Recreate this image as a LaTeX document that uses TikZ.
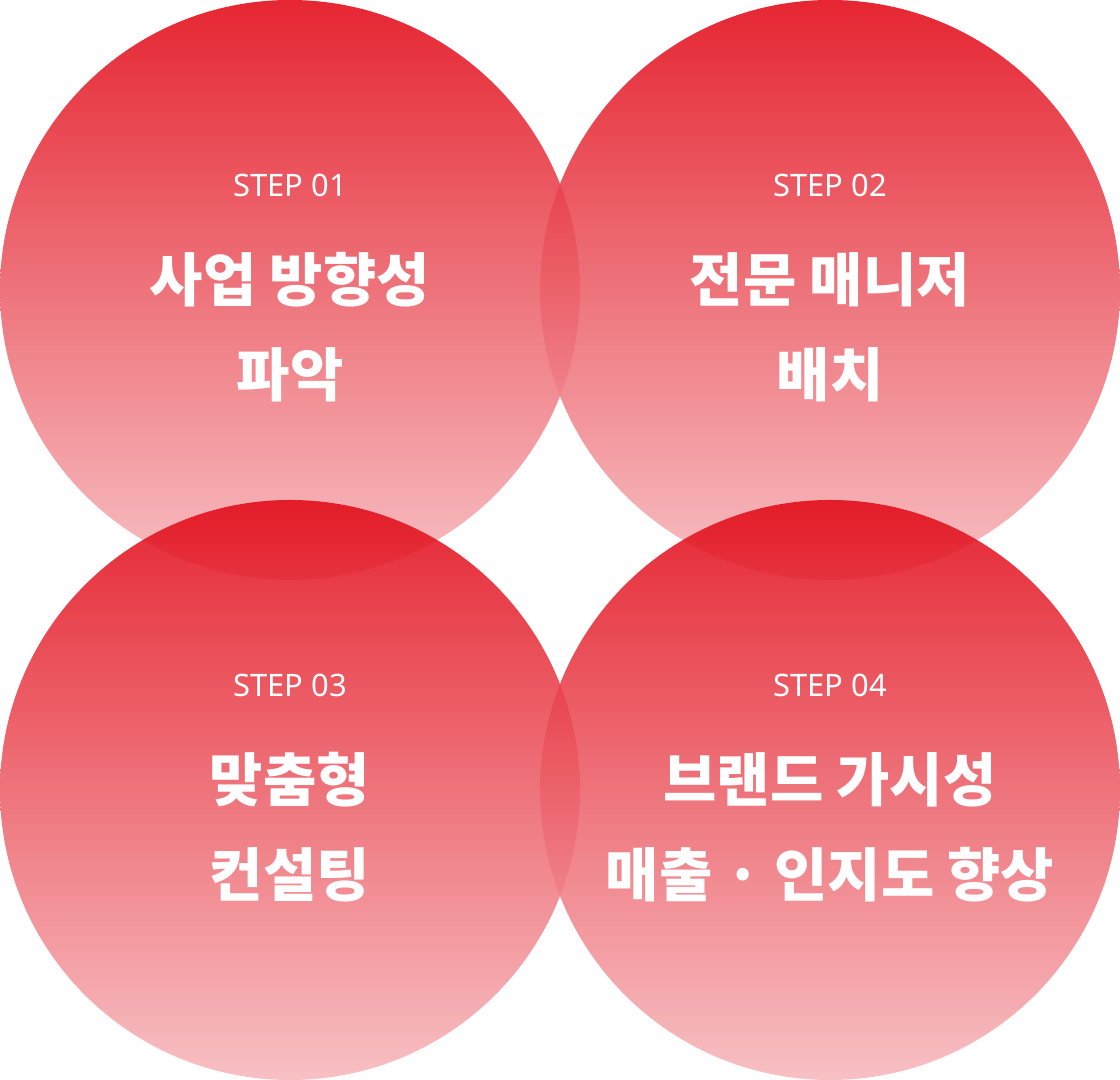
\documentclass[tikz,border=0pt]{standalone}
\usepackage{fontspec}
\setmainfont{Noto Sans CJK KR}
\newfontfamily\stepfont{Noto Sans}
\definecolor{stepRed}{RGB}{226,8,22}
\definecolor{stepPink}{RGB}{246,184,188}
\tikzset{stepdisc/.style={top color=stepRed, bottom color=stepPink, opacity=0.88, draw=none}}
\tikzset{steplabel/.style={text=white, font=\stepfont\fontsize{8.8pt}{10pt}\selectfont}}
\tikzset{title/.style={text=white, align=center, font=\bfseries\fontsize{16.5pt}{27pt}\selectfont}}

\begin{document}
\begin{tikzpicture}
\useasboundingbox (0,0) rectangle (11.2,10.8);

% Circles
\shade[stepdisc] (2.9,7.9) circle (2.9);
\shade[stepdisc] (8.3,7.9) circle (2.9);
\shade[stepdisc] (2.9,2.9) circle (2.9);
\shade[stepdisc] (8.3,2.9) circle (2.9);

% Labels
\node (s1) [steplabel] at (2.9,8.95) {STEP 01};
\node (t1) [title] at (2.9,7.53) {사업 방향성\\파악};
\node (s2) [steplabel] at (8.3,8.95) {STEP 02};
\node (t2) [title] at (8.3,7.53) {전문 매니저\\배치};
\node (s3) [steplabel] at (2.9,3.95) {STEP 03};
\node (t3) [title] at (2.9,2.53) {맞춤형\\컨설팅};
\node (s4) [steplabel] at (8.3,3.95) {STEP 04};
\node (t4) [title] at (8.3,2.53) {브랜드 가시성\\매출 · 인지도 향상};

\end{tikzpicture}
\end{document}
